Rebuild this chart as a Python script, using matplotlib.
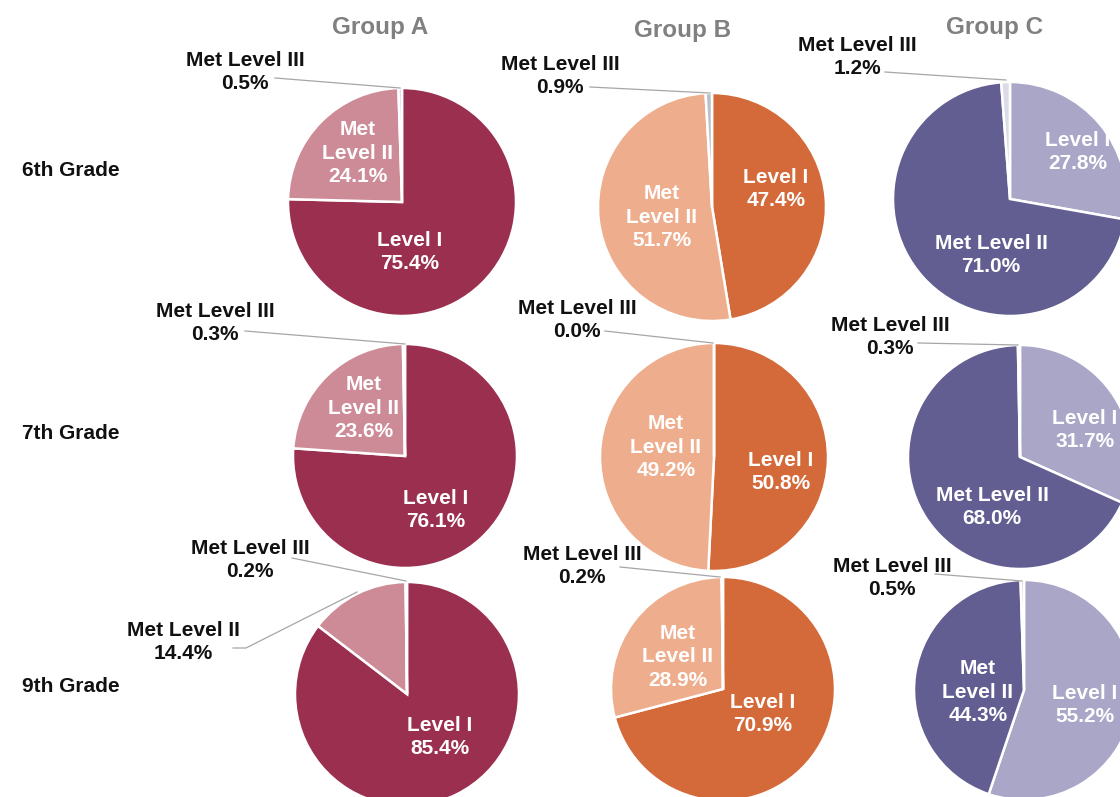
import numpy as np
import matplotlib.pyplot as plt

plt.rcParams['font.family'] = ['Liberation Sans', 'DejaVu Sans']

W, H = 1120, 797

groups = ['Group A', 'Group B', 'Group C']
grades = ['6th Grade', '7th Grade', '9th Grade']
levels = ['Level I', 'Met Level II', 'Met Level III']

# percentages per group, rows = grades, cols = [Level I, Met Level II, Met Level III]
group_a = [[75.4, 24.1, 0.5], [76.1, 23.6, 0.3], [85.4, 14.4, 0.2]]
group_b = [[47.4, 51.7, 0.9], [50.8, 49.2, 0.0], [70.9, 28.9, 0.2]]
group_c = [[27.8, 71.0, 1.2], [31.7, 68.0, 0.3], [55.2, 44.3, 0.5]]
data = [group_a, group_b, group_c]

# colours per group: Level I, Met Level II, Met Level III
colors = [['#9b2f50', '#cd8b97', '#d8d4dc'],
          ['#d46a3a', '#eeae8e', '#b8c0c8'],
          ['#a9a6c8', '#625e92', '#dcdce8']]

# pie centres and radii in pixels (x, y, r), [group][grade]
pies = [[(402, 202, 114), (405, 456, 112), (407, 694, 112)],
        [(712, 207, 114), (714, 457, 114), (723, 689, 112)],
        [(1010, 199, 117), (1020, 457, 112), (1024, 690, 110)]]

# inside label positions (pixels) for Level I and Met Level II, None = drawn outside
inside = [[[(410, 252), (358, 153)], [(436, 510), (364, 408)], [(440, 737), None]],
          [[(776, 189), (662, 217)], [(781, 472), (666, 447)], [(763, 714), (678, 657)]],
          [[(1078, 152), (991, 255)], [(1085, 430), (992, 507)], [(1085, 705), (978, 692)]]]

# Met Level III callouts: text centre, leader line start, leader end
callouts = [[((245, 72), (275, 78), (400, 88)),
             ((215, 323), (245, 331), (405, 344)),
             ((250, 560), (292, 558), (406, 581))],
            [((560, 76), (590, 87), (710, 93)),
             ((577, 320), (605, 331), (713, 343)),
             ((582, 566), (620, 567), (720, 577))],
            [((857, 57), (885, 72), (1006, 80)),
             ((890, 337), (918, 343), (1018, 345)),
             ((892, 578), (935, 574), (1022, 581))]]

LS = 1.3

fig = plt.figure(figsize=(W / 100, H / 100), dpi=100)
ax = fig.add_axes([0, 0, 1, 1])


def Y(py):
    return H - py


for g in range(3):
    for r in range(3):
        vals = data[g][r]
        cx, cy, rad = pies[g][r]
        ax.pie(vals, colors=colors[g], startangle=90, counterclock=False,
               center=(cx, Y(cy)), radius=rad, frame=True,
               wedgeprops=dict(edgecolor='white', linewidth=1.8))

        # inside labels
        for k in range(2):
            pos = inside[g][r][k]
            if pos is None:
                continue
            name = levels[k]
            if k == 1 and not (g == 2 and r < 2):
                name = 'Met\nLevel II'
            ax.text(pos[0], Y(pos[1]), f'{name}\n{vals[k]:.1f}%', color='white',
                    fontsize=15, fontweight='bold', ha='center', va='center',
                    linespacing=LS)

        # Met Level III callout
        tpos, l0, l1 = callouts[g][r]
        ax.plot([l0[0], l1[0]], [Y(l0[1]), Y(l1[1])], color='#a6a6a6', lw=0.9)
        ax.text(tpos[0], Y(tpos[1]), f'{levels[2]}\n{vals[2]:.1f}%', color='#111111',
                fontsize=15, fontweight='bold', ha='center', va='center',
                linespacing=LS)

# outside callout for Group A 9th grade Met Level II
ax.plot([233, 246, 357], [Y(648), Y(648), Y(592)], color='#a6a6a6', lw=0.9)
ax.text(183, Y(642), f'{levels[1]}\n{group_a[2][1]:.1f}%', color='#111111',
        fontsize=15, fontweight='bold', ha='center', va='center', linespacing=LS)

# column headers
for g, (hx, hy) in enumerate([(380, 27), (683, 30), (995, 27)]):
    ax.text(hx, Y(hy), groups[g], color='#808080', fontsize=17.5,
            fontweight='bold', ha='center', va='center')

# row labels
for r, ry in enumerate([170, 433, 687]):
    ax.text(22, Y(ry), grades[r], color='#111111', fontsize=15,
            fontweight='bold', ha='left', va='center')

ax.set_xlim(0, W)
ax.set_ylim(0, H)
ax.set_aspect('equal')
ax.axis('off')

fig.savefig('out.png', dpi=100, facecolor='white')
